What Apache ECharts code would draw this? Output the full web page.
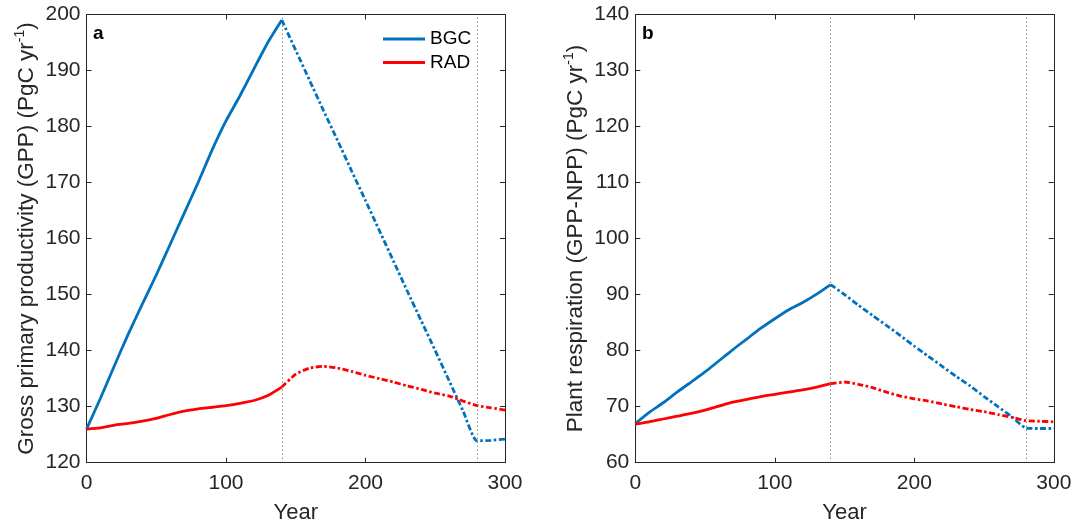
<!DOCTYPE html>
<html>
<head>
<meta charset="utf-8">
<script src="https://cdn.jsdelivr.net/npm/echarts@6/dist/echarts.min.js"></script>
<style>
    html, body { margin: 0; padding: 0; background: #fff; }
    #chart { width: 1073px; height: 525px; }
</style>
</head>
<body>
<div id="chart"></div>
<script>
// 年份
var years = [0, 10, 20, 30, 40, 50, 60, 70, 80, 90, 100, 110, 120, 130, 140, 150, 160, 170, 180, 190, 200, 210, 220, 230, 240, 250, 260, 270, 280, 290, 300];
// a: GPP
var gppBgc = [126, 131.5, 137.3, 143, 148.3, 153.5, 159, 164.5, 170, 175.8, 181, 185.5, 190.3, 195, 199, 193.6, 188.2, 182.8, 177.5, 172.1, 166.8, 161.4, 156, 150.6, 145.3, 140, 134.6, 129.2, 123.9, 124.0, 124.2];
var gppRad = [126, 126.2, 126.7, 127, 127.4, 127.9, 128.6, 129.2, 129.6, 129.9, 130.2, 130.6, 131.1, 132, 133.5, 135.8, 136.9, 137.2, 136.9, 136.3, 135.6, 135.0, 134.4, 133.7, 133.1, 132.4, 131.9, 131.0, 130.2, 129.8, 129.4];
// b: GPP-NPP
var raBgc = [67, 69, 70.7, 72.6, 74.4, 76.2, 78.2, 80.2, 82.1, 84, 85.7, 87.3, 88.6, 90.1, 91.8, 90.0, 88.1, 86.3, 84.5, 82.7, 80.8, 79.0, 77.2, 75.4, 73.7, 71.8, 70.0, 68.2, 66.2, 66.1, 66.1];
var raRad = [66.9, 67.3, 67.8, 68.3, 68.8, 69.4, 70.1, 70.8, 71.3, 71.8, 72.2, 72.6, 73.0, 73.5, 74.1, 74.4, 74.0, 73.4, 72.6, 71.9, 71.4, 71.0, 70.5, 70.0, 69.5, 69.1, 68.6, 68.1, 67.5, 67.4, 67.3];
// 分段年份
var breakYears = [140, 280];
var xTicks = [0, 300, 100];
var gppTicks = [120, 200, 10];
var raTicks = [60, 140, 10];

var blue = '#0072BD', red = '#FF0000', axisColor = '#262626';
var font = 'Liberation Sans, Arial, Helvetica, sans-serif';

function part(vals, before) {
    var out = [];
    for (var i = 0; i < years.length; i++) {
        if (before ? years[i] <= breakYears[0] : years[i] >= breakYears[0]) out.push([years[i], vals[i]]);
    }
    return out;
}

function xAx(grid, top) {
    return {
        type: 'value', gridIndex: grid, min: xTicks[0], max: xTicks[1], interval: xTicks[2],
        position: top ? 'top' : 'bottom',
        name: top ? '' : 'Year', nameLocation: 'middle', nameGap: 39,
        nameTextStyle: { fontFamily: font, fontSize: 22, color: axisColor },
        axisLine: { onZero: false, lineStyle: { color: axisColor, width: 1 } },
        axisTick: { inside: true, length: 5, lineStyle: { color: axisColor } },
        axisLabel: { show: !top, fontFamily: font, fontSize: 21, color: axisColor, margin: 10 },
        splitLine: { show: false }
    };
}

function yAx(grid, ticks, name, right) {
    return {
        type: 'value', gridIndex: grid, min: ticks[0], max: ticks[1], interval: ticks[2],
        position: right ? 'right' : 'left',
        name: right ? '' : '{t|' + name + '}{s|-1}{t|)}', nameLocation: 'middle', nameGap: 46,
        nameTextStyle: {
            rich: {
                t: { fontFamily: font, fontSize: 22.5, color: axisColor },
                s: { fontFamily: font, fontSize: 14, color: axisColor, padding: [0, 0, 13, 0] }
            }
        },
        axisLine: { onZero: false, lineStyle: { color: axisColor, width: 1 } },
        axisTick: { inside: true, length: 5, lineStyle: { color: axisColor } },
        axisLabel: { show: !right, fontFamily: font, fontSize: 21, color: axisColor, margin: 6 },
        splitLine: { show: false }
    };
}

function lines(grid, bgc, rad) {
    var solid = { width: 2.8, type: 'solid' };
    var dash = { width: 2.8, type: [6, 2.5, 2.5, 2.5] };
    function s(name, color, data, ls) {
        return {
            name: name, type: 'line', xAxisIndex: grid, yAxisIndex: grid, data: data,
            showSymbol: false, smooth: 0.2, color: color, animation: false,
            lineStyle: Object.assign({ color: color }, ls)
        };
    }
    var list = [
        s('BGC', blue, part(bgc, true), solid),
        s('BGC', blue, part(bgc, false), dash),
        s('RAD', red, part(rad, true), solid),
        s('RAD', red, part(rad, false), dash)
    ];
    // 虚线分隔
    list[0].markLine = {
        silent: true, symbol: 'none', animation: false, label: { show: false },
        lineStyle: { color: '#555', width: 1, type: [1, 3] },
        data: breakYears.map(function (y) { return { xAxis: y }; })
    };
    return list;
}

var chart = echarts.init(document.getElementById('chart'));
var option = {
    backgroundColor: '#fff',
    grid: [
        { left: 86.5, right: 568, top: 14.5, bottom: 62.3, outerBoundsMode: 'none' },
        { left: 635.3, right: 19.2, top: 14.5, bottom: 62.3, outerBoundsMode: 'none' }
    ],
    legend: {
        data: ['BGC', 'RAD'], orient: 'vertical', left: 383, top: 29, padding: 0,
        icon: 'rect', itemWidth: 42, itemHeight: 3, itemGap: 3.5, itemTextGap: 5,
        textStyle: { fontFamily: font, fontSize: 19, color: '#000', lineHeight: 20 }
    },
    title: [
        { text: 'a', left: 93, top: 24, padding: 0, textStyle: { fontFamily: font, fontSize: 19, fontWeight: 'bold', color: '#000' } },
        { text: 'b', left: 642, top: 24, padding: 0, textStyle: { fontFamily: font, fontSize: 19, fontWeight: 'bold', color: '#000' } }
    ],
    xAxis: [xAx(0, false), xAx(1, false), xAx(0, true), xAx(1, true)],
    yAxis: [
        yAx(0, gppTicks, 'Gross primary productivity (GPP) (PgC yr', false),
        yAx(1, raTicks, 'Plant respiration (GPP-NPP) (PgC yr', false),
        yAx(0, gppTicks, '', true),
        yAx(1, raTicks, '', true)
    ],
    series: lines(0, gppBgc, gppRad).concat(lines(1, raBgc, raRad))
};
chart.setOption(option);
</script>
</body>
</html>
